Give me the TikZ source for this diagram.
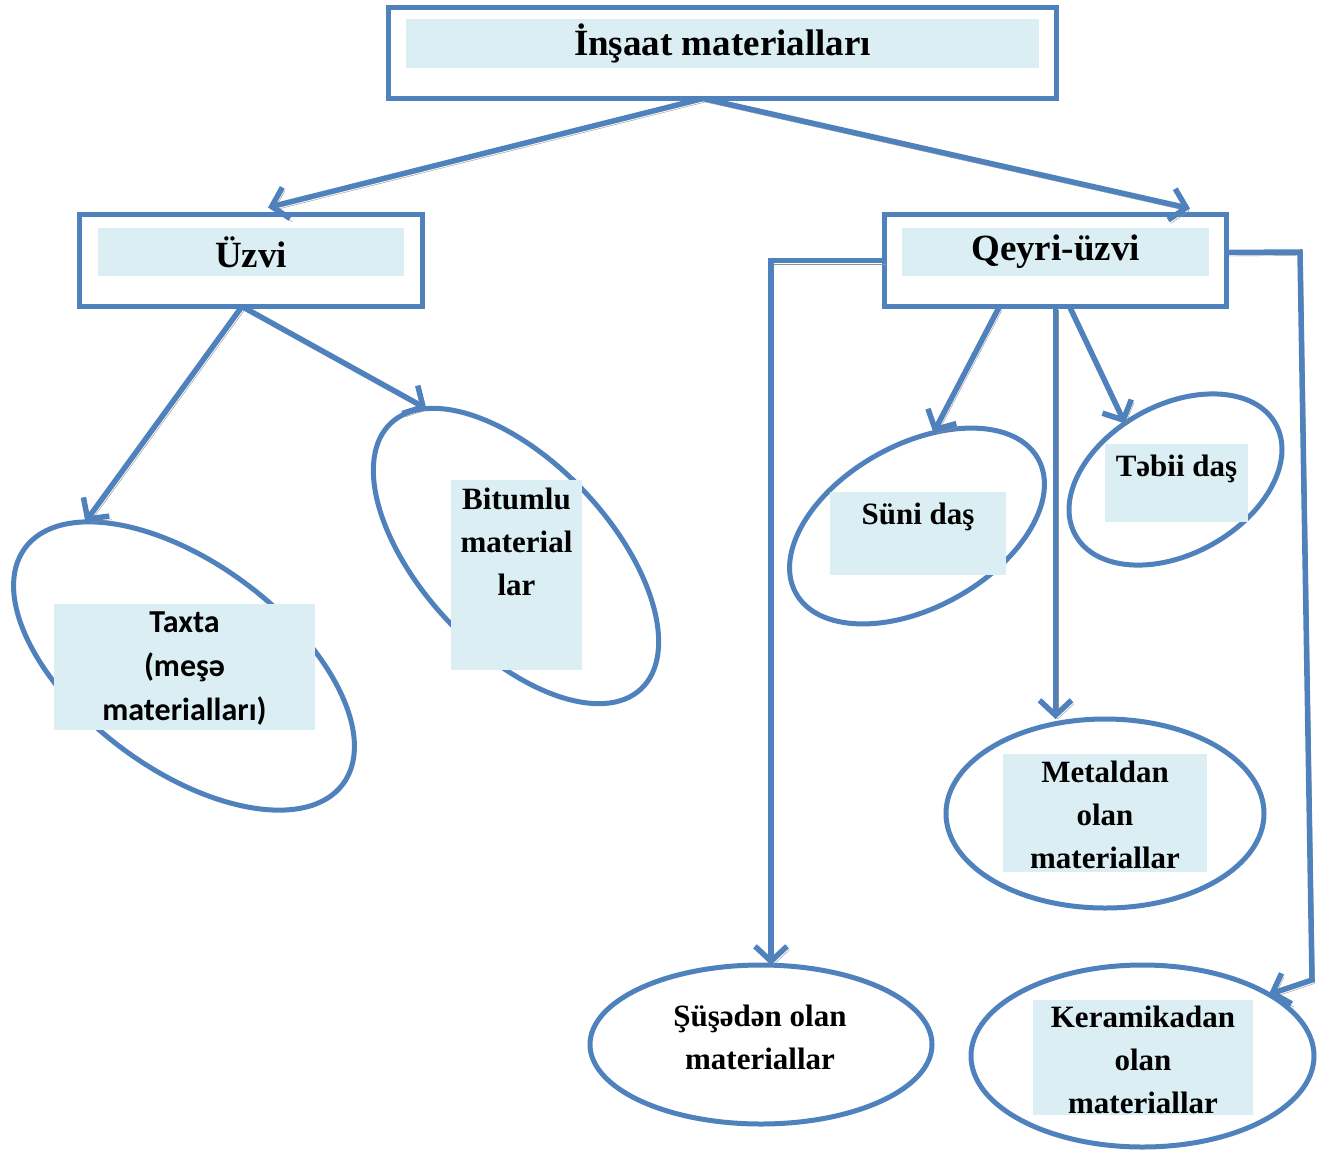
\documentclass[tikz,border=0pt]{standalone}
\usepackage{fontspec}
\setmainfont{Liberation Serif}
\newfontfamily\calibri{Carlito}
\usepackage{tikz}
\usepackage{xcolor}
\usetikzlibrary{shapes.geometric, arrows.meta, positioning}

\definecolor{boxblue}{RGB}{79,129,189}
\definecolor{fillblue}{RGB}{219,238,244}
\definecolor{shadowgray}{RGB}{145,145,145}

\begin{document}
\begin{tikzpicture}[
    x=1pt, y=-1pt,
    font=\bfseries,
    outerbox/.style={draw=boxblue, line width=5.5pt, rectangle, inner sep=0pt, outer sep=0pt},
    fillbox/.style={fill=fillblue, rectangle, inner sep=0pt, outer sep=0pt, align=center},
    oval/.style={draw=boxblue, line width=5pt, ellipse, inner sep=0pt, outer sep=0pt},
    head/.style={font=\fontsize{37}{40}\selectfont\bfseries},
    txt/.style={inner sep=0pt, align=center, font=\fontsize{31}{43}\selectfont\bfseries},
    arr/.style={draw=boxblue, line width=5.5pt, -{Straight Barb[length=15pt, width=32pt]},
                preaction={draw=shadowgray, transform canvas={shift={(2.5pt,-3.5pt)}}}}
]
\useasboundingbox (0,0) rectangle (1322,1151);

% Top level
\node[outerbox, minimum width=668, minimum height=91] (top) at (722.5,53) {};
\node[fillbox, head, minimum width=633, minimum height=49] (topfill) at (722.5,43.5) {İnşaat materialları};

% Second level
\node[outerbox, minimum width=343, minimum height=92] (uzvi) at (251,260.5) {};
\node[fillbox, head, minimum width=306, minimum height=48] (uzvifill) at (251,252) {Üzvi};

\node[outerbox, minimum width=342, minimum height=92] (qeyri) at (1055.5,260.5) {};
\node[fillbox, head, minimum width=307, minimum height=48] (qeyrifill) at (1055.5,252) {Qeyri-üzvi};

% Ovals
\node[oval, minimum width=396, minimum height=206, rotate=-36.6] (taxta) at (184,666) {};
\node[oval, minimum width=365, minimum height=188, rotate=-46.7] (bitum) at (516,556) {};
\node[oval, minimum width=277, minimum height=163, rotate=29] (suni) at (917,526) {};
\node[oval, minimum width=229, minimum height=149, rotate=29] (tebii) at (1175.5,479.5) {};
\node[oval, minimum width=318, minimum height=189] (metal) at (1105,813.5) {};
\node[oval, minimum width=342, minimum height=159] (suse) at (761,1044.5) {};
\node[oval, minimum width=343, minimum height=182] (kera) at (1142.5,1056) {};

% Labels in the ovals
\node[fillbox, minimum width=261, minimum height=126] (taxtafill) at (184.5,667) {};
\node[txt, font=\calibri\fontsize{32}{44}\selectfont\bfseries] (taxtalabel) at ([yshift=-2pt]taxtafill) {Taxta\\(meşə\\materialları)};

\node[fillbox, minimum width=131, minimum height=190] (bitfill) at (516.5,575) {};
\node[txt, anchor=north] (bitlabel) at ([yshift=-8pt]bitfill.north) {Bitumlu\\material\\lar};

\node[fillbox, minimum width=176, minimum height=83] (sunifill) at (918,533.5) {};
\node[txt, anchor=north] (sunilabel) at ([yshift=-11pt]sunifill.north) {Süni daş};

\node[fillbox, minimum width=143, minimum height=78] (tebiifill) at (1176.5,483) {};
\node[txt, anchor=north] (tebiilabel) at ([yshift=-11pt]tebiifill.north) {Təbii daş};

\node[fillbox, minimum width=204, minimum height=118] (metalfill) at (1105,813) {};
\node[txt] (metallabel) at ([yshift=-2pt]metalfill) {Metaldan\\olan\\materiallar};

\node[txt] (suselabel) at (760,1037) {Şüşədən olan\\materiallar};

\node[fillbox, minimum width=220, minimum height=115] (kerafill) at (1143,1057.5) {};
\node[txt] (keralabel) at ([yshift=-2pt]kerafill) {Keramikadan\\olan\\materiallar};

% Bend points
\coordinate (kbend1) at (1300,252);
\coordinate (kbend2) at (1312,980);

% Arrows
\draw[arr] ([xshift=-19.5pt]top.south) -- ([xshift=17pt,yshift=7pt]uzvi.north);
\draw[arr] ([xshift=-19.5pt]top.south) -- ([xshift=134.5pt,yshift=6pt]qeyri.north);

\draw[arr] ([xshift=-9pt]uzvi.south) -- (taxta.161.9);
\draw[arr] ([xshift=-9pt]uzvi.south) -- (bitum.168.3);

\draw[arr] ([xshift=-56pt]qeyri.south) -- (suni.51.2);
\draw[arr] (qeyri.south) -- (qeyri.south |- metal.north);
\draw[arr] ([xshift=14pt]qeyri.south) -- (tebii.103.9);

\draw[arr] (qeyri.west) -| ([xshift=10pt]suse.north);
\draw[arr] ([yshift=8pt]qeyri.east) -- (kbend1) -- (kbend2) -- (kera.26.7);

\end{tikzpicture}
\end{document}
